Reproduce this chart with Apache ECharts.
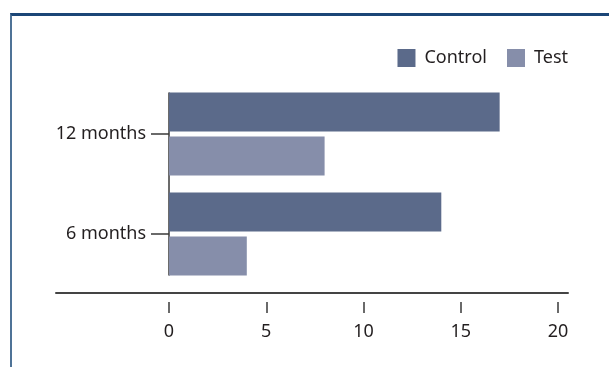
<!DOCTYPE html>
<html>
<head>
<meta charset="utf-8">
<script src="https://cdn.jsdelivr.net/npm/echarts@6/dist/echarts.min.js"></script>
<style>
  html, body { margin: 0; padding: 0; background: #fff; }
  .frame {
    position: absolute; left: 10px; top: 13px; width: 599px; height: 354px;
    border-top: 3px solid #1b4677; border-left: 2px solid #4f7397;
    box-sizing: border-box;
  }
  #chart { position: absolute; left: 0; top: 0; width: 609px; height: 367px; }
</style>
</head>
<body>
<div class="frame"></div>
<div id="chart"></div>
<script>
// data
const categories = ["12 months", "6 months"];
const controlValues = [17, 14];
const testValues = [8, 4];
const xTicks = [0, 5, 10, 15, 20];

const font = "Noto Sans";
const textColor = "#231f20";
const lineColor = "#3a3a3a";

const chart = echarts.init(document.getElementById("chart"));

const option = {
  animation: false,
  legend: {
    right: 36,
    top: 44,
    itemWidth: 18,
    itemHeight: 18,
    itemGap: 20,
    icon: "rect",
    textStyle: { fontFamily: font, fontSize: 18, color: textColor, padding: [0, 0, 0, 4] },
    data: ["Control", "Test"],
  },
  grid: [
    // bars
    { left: 169, right: 51, top: 84, height: 200 },
    // vertical axis line
    { left: 169, width: 10, top: 93, height: 182 },
    // long horizontal axis line
    { left: 56, right: 41, top: 292, height: 1 },
  ],
  xAxis: [
    {
      gridIndex: 0,
      type: "value",
      min: xTicks[0],
      max: xTicks[xTicks.length - 1],
      interval: 5,
      offset: 18,
      axisLine: { show: false },
      axisTick: { show: true, length: 11, lineStyle: { color: lineColor, width: 1.5 } },
      axisLabel: { margin: 21, fontFamily: font, fontSize: 18, color: textColor },
      splitLine: { show: false },
    },
    { gridIndex: 1, type: "value", show: false },
    {
      gridIndex: 2,
      type: "value",
      axisLine: { show: true, lineStyle: { color: "#444", width: 2 } },
      axisTick: { show: false },
      axisLabel: { show: false },
      splitLine: { show: false },
    },
  ],
  yAxis: [
    {
      gridIndex: 0,
      type: "category",
      inverse: true,
      data: categories,
      axisLine: { show: false },
      axisTick: { show: true, alignWithLabel: true, length: 18, lineStyle: { color: lineColor, width: 1.5 } },
      axisLabel: { margin: 23, fontFamily: font, fontSize: 18, color: textColor },
    },
    {
      gridIndex: 1,
      type: "value",
      axisLine: { show: true, lineStyle: { color: lineColor, width: 1.5 } },
      axisTick: { show: false },
      axisLabel: { show: false },
      splitLine: { show: false },
    },
    {
      gridIndex: 2,
      type: "value",
      show: false,
    },
  ],
  series: [
    {
      name: "Control",
      type: "bar",
      xAxisIndex: 0,
      yAxisIndex: 0,
      data: controlValues,
      barWidth: 39,
      barGap: "13%",
      itemStyle: { color: "#5b6a8a" },
    },
    {
      name: "Test",
      type: "bar",
      xAxisIndex: 0,
      yAxisIndex: 0,
      data: testValues,
      barWidth: 39,
      barGap: "13%",
      itemStyle: { color: "#868eaa" },
    },
  ],
};

chart.setOption(option);
</script>
</body>
</html>
